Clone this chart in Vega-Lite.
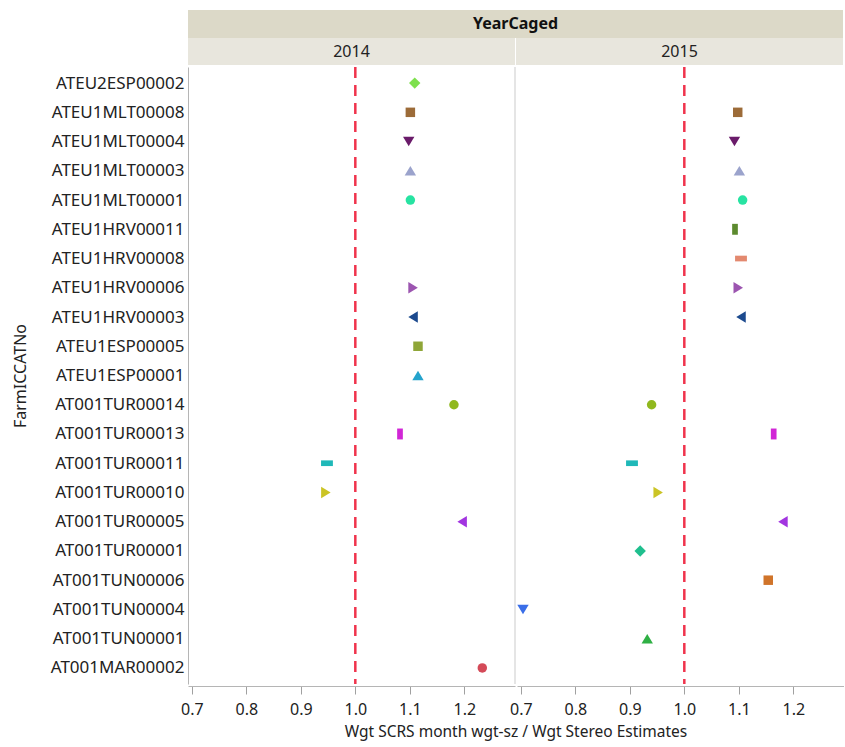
{
  "$schema": "https://vega.github.io/schema/vega-lite/v6.json",
  "padding": {"left": 12, "top": 10, "right": 0, "bottom": 0},
  "background": "white",
  "spacing": 0,
  "config": {
    "font": "Noto Sans",
    "view": {"stroke": null},
    "axis": {"labelColor": "#222", "titleColor": "#222", "titleFontWeight": "normal", "grid": false}
  },
  "datasets": {
    "titles": [{"t": "YearCaged"}],
    "years": [{"YearCaged": 2014}, {"YearCaged": 2015}],
    "points": [
      {"farm": "ATEU2ESP00002", "YearCaged": 2014, "ratio": 1.109},
      {"farm": "ATEU1MLT00008", "YearCaged": 2014, "ratio": 1.101},
      {"farm": "ATEU1MLT00004", "YearCaged": 2014, "ratio": 1.098},
      {"farm": "ATEU1MLT00003", "YearCaged": 2014, "ratio": 1.101},
      {"farm": "ATEU1MLT00001", "YearCaged": 2014, "ratio": 1.101},
      {"farm": "ATEU1HRV00006", "YearCaged": 2014, "ratio": 1.106},
      {"farm": "ATEU1HRV00003", "YearCaged": 2014, "ratio": 1.106},
      {"farm": "ATEU1ESP00005", "YearCaged": 2014, "ratio": 1.115},
      {"farm": "ATEU1ESP00001", "YearCaged": 2014, "ratio": 1.115},
      {"farm": "AT001TUR00014", "YearCaged": 2014, "ratio": 1.181},
      {"farm": "AT001TUR00013", "YearCaged": 2014, "ratio": 1.082},
      {"farm": "AT001TUR00011", "YearCaged": 2014, "ratio": 0.948},
      {"farm": "AT001TUR00010", "YearCaged": 2014, "ratio": 0.946},
      {"farm": "AT001TUR00005", "YearCaged": 2014, "ratio": 1.196},
      {"farm": "AT001MAR00002", "YearCaged": 2014, "ratio": 1.233},
      {"farm": "ATEU1MLT00008", "YearCaged": 2015, "ratio": 1.098},
      {"farm": "ATEU1MLT00004", "YearCaged": 2015, "ratio": 1.092},
      {"farm": "ATEU1MLT00003", "YearCaged": 2015, "ratio": 1.101},
      {"farm": "ATEU1MLT00001", "YearCaged": 2015, "ratio": 1.107},
      {"farm": "ATEU1HRV00011", "YearCaged": 2015, "ratio": 1.093},
      {"farm": "ATEU1HRV00008", "YearCaged": 2015, "ratio": 1.104},
      {"farm": "ATEU1HRV00006", "YearCaged": 2015, "ratio": 1.099},
      {"farm": "ATEU1HRV00003", "YearCaged": 2015, "ratio": 1.104},
      {"farm": "AT001TUR00014", "YearCaged": 2015, "ratio": 0.940},
      {"farm": "AT001TUR00013", "YearCaged": 2015, "ratio": 1.164},
      {"farm": "AT001TUR00011", "YearCaged": 2015, "ratio": 0.904},
      {"farm": "AT001TUR00010", "YearCaged": 2015, "ratio": 0.952},
      {"farm": "AT001TUR00005", "YearCaged": 2015, "ratio": 1.181},
      {"farm": "AT001TUR00001", "YearCaged": 2015, "ratio": 0.919},
      {"farm": "AT001TUN00006", "YearCaged": 2015, "ratio": 1.154},
      {"farm": "AT001TUN00004", "YearCaged": 2015, "ratio": 0.704},
      {"farm": "AT001TUN00001", "YearCaged": 2015, "ratio": 0.932}
    ]
  },
  "vconcat": [
    {
      "data": {"name": "titles"},
      "width": 655,
      "height": 28,
      "view": {"fill": "#dcd9c8", "stroke": null},
      "mark": {"type": "text", "fontWeight": "bold", "fontSize": 16, "color": "#111"},
      "encoding": {"text": {"field": "t"}}
    },
    {
      "data": {"name": "years"},
      "facet": {"column": {"field": "YearCaged", "type": "ordinal", "header": {"labels": false, "title": null}}},
      "spacing": 1,
      "spec": {
        "width": 327,
        "height": 27,
        "view": {"fill": "#e8e6dd", "stroke": null},
        "mark": {"type": "text", "fontSize": 16, "color": "#222"},
        "encoding": {"text": {"field": "YearCaged", "type": "nominal"}}
      }
    },
    {
      "data": {"name": "points"},
      "facet": {"column": {"field": "YearCaged", "type": "ordinal", "header": {"labels": false, "title": "Wgt SCRS month wgt-sz / Wgt Stereo Estimates", "titleOrient": "bottom", "titleFontWeight": "normal", "titleFontSize": 15.5, "titleColor": "#222", "titlePadding": -2}}},
      "spacing": 1,
      "spec": {
        "width": 327,
        "height": 617,
        "layer": [
          {
            "transform": [{"filter": "datum.YearCaged == 2014"}, {"aggregate": [{"op": "count", "as": "n"}], "groupby": ["YearCaged"]}],
            "mark": {"type": "rule", "color": "#dcdcdc", "strokeWidth": 1.5},
            "encoding": {"x": {"datum": 1.293, "type": "quantitative"}}
          },
          {
            "transform": [{"aggregate": [{"op": "count", "as": "n"}], "groupby": ["YearCaged"]}],
            "mark": {"type": "rule", "color": "#f0334c", "strokeWidth": 2.5, "strokeDash": [11, 7]},
            "encoding": {"x": {"datum": 1.0, "type": "quantitative"}}
          },
          {
            "mark": {"type": "point", "filled": true, "opacity": 1, "size": 90, "strokeWidth": 0},
            "encoding": {
              "x": {
                "field": "ratio",
                "type": "quantitative",
                "scale": {"domain": [0.693, 1.293], "nice": false, "zero": false},
                "axis": {
                  "values": [0.7, 0.8, 0.9, 1.0, 1.1, 1.2],
                  "format": ".1f",
                  "title": null,
                  "labelFontSize": 16,
                  "domainColor": "#b5b5b5",
                  "tickColor": "#a0a0a0",
                  "tickSize": 8,
                  "labelPadding": 7
                }
              },
              "y": {
                "field": "farm",
                "type": "nominal",
                "sort": ["ATEU2ESP00002", "ATEU1MLT00008", "ATEU1MLT00004", "ATEU1MLT00003", "ATEU1MLT00001", "ATEU1HRV00011", "ATEU1HRV00008", "ATEU1HRV00006", "ATEU1HRV00003", "ATEU1ESP00005", "ATEU1ESP00001", "AT001TUR00014", "AT001TUR00013", "AT001TUR00011", "AT001TUR00010", "AT001TUR00005", "AT001TUR00001", "AT001TUN00006", "AT001TUN00004", "AT001TUN00001", "AT001MAR00002"],
                "scale": {"type": "point", "padding": 0.55},
                "axis": {
                  "title": "FarmICCATNo",
                  "labelFontSize": 17,
                  "titleFontSize": 16,
                  "ticks": false,
                  "labelPadding": 4,
                  "domainColor": "#b5b5b5",
                  "titlePadding": 22
                }
              },
              "color": {
                "field": "farm",
                "type": "nominal",
                "legend": null,
                "scale": {
                  "domain": ["ATEU2ESP00002", "ATEU1MLT00008", "ATEU1MLT00004", "ATEU1MLT00003", "ATEU1MLT00001", "ATEU1HRV00011", "ATEU1HRV00008", "ATEU1HRV00006", "ATEU1HRV00003", "ATEU1ESP00005", "ATEU1ESP00001", "AT001TUR00014", "AT001TUR00013", "AT001TUR00011", "AT001TUR00010", "AT001TUR00005", "AT001TUR00001", "AT001TUN00006", "AT001TUN00004", "AT001TUN00001", "AT001MAR00002"],
                  "range": ["#7ee04e", "#9c6b38", "#6a1b6a", "#9ba3cc", "#27e3a2", "#5c8a2e", "#e3896f", "#9c55b0", "#1c4a8e", "#8fa638", "#24a3cc", "#90b81e", "#d126d6", "#1fb8b8", "#cbc425", "#a235e0", "#1fbf8e", "#d0742a", "#3a6ee8", "#2fb044", "#d44a58"]
                }
              },
              "shape": {
                "field": "farm",
                "type": "nominal",
                "legend": null,
                "scale": {
                  "domain": ["ATEU2ESP00002", "ATEU1MLT00008", "ATEU1MLT00004", "ATEU1MLT00003", "ATEU1MLT00001", "ATEU1HRV00011", "ATEU1HRV00008", "ATEU1HRV00006", "ATEU1HRV00003", "ATEU1ESP00005", "ATEU1ESP00001", "AT001TUR00014", "AT001TUR00013", "AT001TUR00011", "AT001TUR00010", "AT001TUR00005", "AT001TUR00001", "AT001TUN00006", "AT001TUN00004", "AT001TUN00001", "AT001MAR00002"],
                  "range": [
                    "M0,-1.2L1.2,0L0,1.2L-1.2,0Z",
                    "square",
                    "M0,1L1.2,-1L-1.2,-1Z",
                    "M0,-1L1.2,1L-1.2,1Z",
                    "circle",
                    "M-0.6,-1.15L0.6,-1.15L0.6,1.15L-0.6,1.15Z",
                    "M-1.25,-0.6L1.25,-0.6L1.25,0.6L-1.25,0.6Z",
                    "M1,0L-1,-1.2L-1,1.2Z",
                    "M-1,0L1,-1.2L1,1.2Z",
                    "square",
                    "M0,-1L1.2,1L-1.2,1Z",
                    "circle",
                    "M-0.6,-1.15L0.6,-1.15L0.6,1.15L-0.6,1.15Z",
                    "M-1.25,-0.6L1.25,-0.6L1.25,0.6L-1.25,0.6Z",
                    "M1,0L-1,-1.2L-1,1.2Z",
                    "M-1,0L1,-1.2L1,1.2Z",
                    "M0,-1.2L1.2,0L0,1.2L-1.2,0Z",
                    "square",
                    "M0,1L1.2,-1L-1.2,-1Z",
                    "M0,-1L1.2,1L-1.2,1Z",
                    "circle"
                  ]
                }
              }
            }
          }
        ]
      }
    }
  ]
}
